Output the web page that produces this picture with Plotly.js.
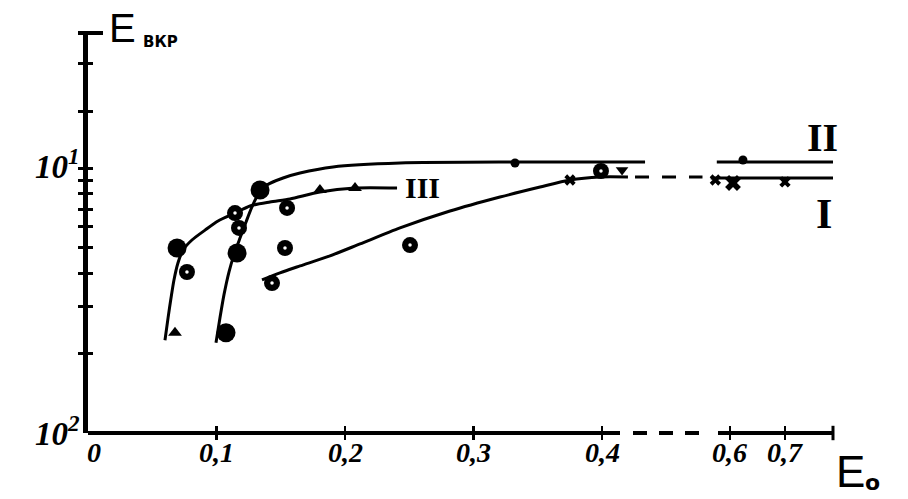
<!DOCTYPE html>
<html>
<head>
<meta charset="utf-8">
<script src="https://cdn.plot.ly/plotly-3.0.1.min.js"></script>
<style>html,body{margin:0;padding:0;background:#fff;}#chart{width:908px;height:499px;}</style>
</head>
<body>
<div id="chart"></div>
<script>
// ---------- data (E0, E_vkr) ----------
// curve II (solid, left of the axis break)
const curveII_E = [0.0996, 0.1027, 0.1058, 0.1097, 0.1136, 0.1183, 0.1230, 0.1276, 0.1331, 0.1393, 0.1518, 0.1650, 0.1907, 0.2428, 0.3323, 0.4335];
const curveII_V = [0.0219, 0.0272, 0.0332, 0.0405, 0.0470, 0.0544, 0.0626, 0.0713, 0.0805, 0.0863, 0.0917, 0.0957, 0.1009, 0.1044, 0.1053, 0.1053];
// curve II (right of the break)
const curveIIr_E = [0.576, 0.7875];
const curveIIr_V = [0.1053, 0.1053];
// curve III
const curveIII_E = [0.0599, 0.0623, 0.0646, 0.0669, 0.0700, 0.0739, 0.0809, 0.0911, 0.1012, 0.1144, 0.1261, 0.1416, 0.1572, 0.1805, 0.2078, 0.2405];
const curveIII_V = [0.0224, 0.0272, 0.0323, 0.0378, 0.0438, 0.0490, 0.0535, 0.0583, 0.0631, 0.0676, 0.0719, 0.0744, 0.0764, 0.0812, 0.0840, 0.0840];
// curve I
const curveI_E = [0.1354, 0.1494, 0.1650, 0.1883, 0.2117, 0.2428, 0.2817, 0.3206, 0.3518, 0.3751, 0.3984, 0.4202];
const curveI_V = [0.0378, 0.0402, 0.0427, 0.0466, 0.0517, 0.0594, 0.0688, 0.0777, 0.0848, 0.0901, 0.0925, 0.0925];
const curveIdash_E = [0.4257, 0.55];
const curveIdash_V = [0.0925, 0.0925];
const curveIr_E = [0.565, 0.7875];
const curveIr_V = [0.0917, 0.0917];
// measured points
const dotBig_E = [0.0693, 0.1074, 0.1160, 0.1339];
const dotBig_V = [0.0499, 0.0239, 0.0478, 0.0826];
const ring_E = [0.0770, 0.1144, 0.1175, 0.1549, 0.1533, 0.1432, 0.2506, 0.3992];
const ring_V = [0.0405, 0.0676, 0.0594, 0.0707, 0.0499, 0.0368, 0.0512, 0.0974];
const dotSmall_E = [0.3323, 0.6236];
const dotSmall_V = [0.1044, 0.1072];
const tri_E = [0.0677, 0.1805, 0.2078];
const tri_V = [0.0239, 0.0826, 0.0840];
const triDown_E = [0.4156];
const triDown_V = [0.0983];
const cross_E = [0.3751, 0.5734, 0.70];
const cross_V = [0.0901, 0.0901, 0.0886];
const star_E = [0.6055];
const star_V = [0.0878];
// ticks
const xTickE = [0, 0.1, 0.2, 0.3, 0.4, 0.6, 0.7];
const xTickText = ['0', '0,1', '0,2', '0,3', '0,4', '0,6', '0,7'];
const yTickVals = [0.02, 0.03, 0.04, 0.05, 0.06, 0.07, 0.08, 0.09, 0.1, 0.163, 0.249];
const yLabelVals = [0.01, 0.1];
const yLabelText = ['10<sup>2</sup>', '10<sup>1</sup>'];

// ---------- broken E0 axis: map E0 to drawing position ----------
function pos(E) {
  if (E <= 0.45) return E;
  const a = 0.4996, k = 0.428; // scale after the break (0.6 -> a)
  if (E >= 0.55) return a + (E - 0.6) * k;
  const y1 = a + (0.55 - 0.6) * k;
  return 0.45 + (E - 0.45) * (y1 - 0.45) / 0.1;
}
const P = arr => arr.map(pos);
const BI = s => '<b><i>' + s + '</i></b>';

const K = '#000';
function line(E, V, dash) {
  return {x: P(E), y: V, mode: 'lines', line: {color: K, width: 3, shape: 'spline', smoothing: 0.7, dash: dash || 'solid'}, hoverinfo: 'skip'};
}
function pts(E, V, symbol, size, color) {
  return {x: P(E), y: V, mode: 'markers', marker: {symbol: symbol, size: size, color: color || K, line: {width: 0}}, hoverinfo: 'skip'};
}

const traces = [
  line(curveII_E, curveII_V),
  line(curveIIr_E, curveIIr_V),
  line(curveIII_E, curveIII_V),
  line(curveI_E, curveI_V),
  line(curveIdash_E, curveIdash_V, '14px,13px'),
  line(curveIr_E, curveIr_V),
  pts(dotBig_E, dotBig_V, 'circle', 19),
  pts(ring_E, ring_V, 'circle', 16),
  pts(ring_E, ring_V, 'circle', 3.5, '#fff'),
  pts(dotSmall_E, dotSmall_V, 'circle', 9),
  pts(tri_E, tri_V, 'triangle-up', 12),
  pts(triDown_E, triDown_V, 'triangle-down', 11),
  pts(cross_E, cross_V, 'x', 10),
  pts(star_E, star_V, 'x', 14),
  // carrier for the mirrored tick axes
  {x: [0.3], y: [0.05], xaxis: 'x2', yaxis: 'y2', mode: 'markers', marker: {opacity: 0}, hoverinfo: 'skip'}
];

const L = 88, R = 75, T = 33, B = 66;
const W = 908 - L - R, H = 499 - T - B;
const xRange = [0, (833 - L) / 1285];
const yRange = [-2, -2 + H / 265];
const px = v => (v - L) / W;       // page px -> paper x
const py = v => (433 - v) / H;     // page px -> paper y

const xTickPos = P(xTickE);
const tickMarks = xTickPos.slice(1);

const xLabelAnn = xTickE.map((e, i) => ({
  text: BI(xTickText[i]), xref: 'x', yref: 'paper', x: pos(e), y: py(452),
  xshift: i === 0 ? 6 : 0, xanchor: 'center', yanchor: 'middle', showarrow: false,
  font: {family: 'Liberation Serif', size: 28, color: K}
}));
const yLabelAnn = yLabelVals.map((v, i) => ({
  text: BI(yLabelText[i]), xref: 'paper', yref: 'y', x: px(82), y: Math.log10(v),
  yshift: i === 0 ? 2 : 4, xanchor: 'right', yanchor: 'middle', showarrow: false,
  font: {family: 'Liberation Serif', size: 33, color: K}
}));

const layout = {
  width: 908, height: 499,
  margin: {l: L, r: R, t: T, b: B, pad: 0},
  paper_bgcolor: '#fff', plot_bgcolor: '#fff',
  showlegend: false,
  xaxis: {range: xRange, showgrid: false, zeroline: false, showline: false, showticklabels: false,
          tickvals: tickMarks, ticks: 'outside', ticklen: 6, tickwidth: 2.5, tickcolor: K},
  xaxis2: {range: xRange, overlaying: 'x', anchor: 'y', side: 'bottom', showgrid: false, zeroline: false, showline: false,
           tickvals: tickMarks, ticks: 'inside', ticklen: 7, tickwidth: 2.5, tickcolor: K, showticklabels: false},
  yaxis: {type: 'log', range: yRange, showgrid: false, zeroline: false, showline: true, linewidth: 5, linecolor: K,
          tickvals: yTickVals, ticks: 'outside', ticklen: 5, tickwidth: 3, tickcolor: K, showticklabels: false},
  yaxis2: {type: 'log', range: yRange, overlaying: 'y', anchor: 'x', side: 'left', showgrid: false, zeroline: false, showline: false,
           tickvals: yTickVals, ticks: 'inside', ticklen: 5, tickwidth: 3, tickcolor: K, showticklabels: false},
  shapes: [
    // broken E0 axis line
    {type: 'line', xref: 'x', yref: 'paper', x0: 0, x1: (620 - L) / 1285, y0: 0, y1: 0, line: {color: K, width: 4}},
    {type: 'line', xref: 'x', yref: 'paper', x0: (633 - L) / 1285, x1: (700 - L) / 1285, y0: 0, y1: 0, line: {color: K, width: 4, dash: '14px,12px'}},
    {type: 'line', xref: 'x', yref: 'paper', x0: (718 - L) / 1285, x1: xRange[1], y0: 0, y1: 0, line: {color: K, width: 4}},
    {type: 'line', xref: 'paper', yref: 'paper', x0: 1, x1: 1, y0: -0.018, y1: 0.018, line: {color: K, width: 3}},
    // top cap of the vertical axis
    {type: 'line', xref: 'paper', yref: 'paper', x0: px(78), x1: px(103), y0: 1, y1: 1, line: {color: K, width: 4}}
  ],
  annotations: xLabelAnn.concat(yLabelAnn, [
    {text: 'E', xref: 'paper', yref: 'paper', x: px(122), y: py(28), xanchor: 'center', yanchor: 'middle', showarrow: false,
     font: {family: 'Liberation Sans', size: 40, color: K}},
    {text: '<b>ВКР</b>', xref: 'paper', yref: 'paper', x: px(160), y: py(42), xanchor: 'center', yanchor: 'middle', showarrow: false,
     font: {family: 'DejaVu Sans', size: 15, color: K}},
    {text: 'E', xref: 'paper', yref: 'paper', x: px(850), y: py(472), xanchor: 'center', yanchor: 'middle', showarrow: false,
     font: {family: 'Liberation Sans', size: 44, color: K}},
    {text: '<b>o</b>', xref: 'paper', yref: 'paper', x: px(873), y: py(482), xanchor: 'center', yanchor: 'middle', showarrow: false,
     font: {family: 'DejaVu Sans', size: 22, color: K}},
    {text: '<b>II</b>', xref: 'paper', yref: 'paper', x: px(822), y: py(137), xanchor: 'center', yanchor: 'middle', showarrow: false,
     font: {family: 'Liberation Serif', size: 40, color: K}},
    {text: '<b>I</b>', xref: 'paper', yref: 'paper', x: px(824), y: py(214), xanchor: 'center', yanchor: 'middle', showarrow: false,
     font: {family: 'Liberation Serif', size: 42, color: K}},
    {text: '<b>III</b>', xref: 'paper', yref: 'paper', x: px(422), y: py(188), xanchor: 'center', yanchor: 'middle', showarrow: false,
     font: {family: 'Liberation Serif', size: 30, color: K}}
  ])
};

Plotly.newPlot('chart', traces, layout, {displayModeBar: false, staticPlot: true});
</script>
</body>
</html>
